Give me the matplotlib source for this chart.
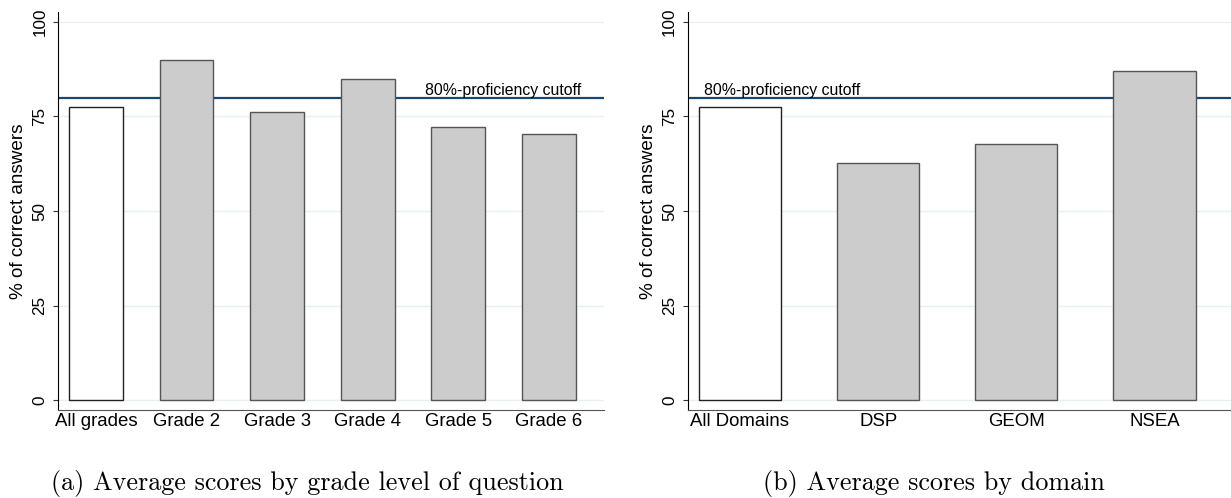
import numpy as np
import matplotlib.pyplot as plt

# Data
grade_labels = ["All grades", "Grade 2", "Grade 3", "Grade 4", "Grade 5", "Grade 6"]
grade_scores = [77.5, 89.9, 76.2, 84.9, 72.2, 70.4]

domain_labels = ["All Domains", "DSP", "GEOM", "NSEA"]
domain_scores = [77.5, 62.7, 67.8, 86.9]

cutoff = 80
yticks = [0, 25, 50, 75, 100]

captions = ["(a) Average scores by grade level of question",
            "(b) Average scores by domain"]

plt.rcParams['font.family'] = ['Liberation Sans', 'DejaVu Sans']

fig = plt.figure(figsize=(12.31, 4.98), dpi=100)
ax1 = fig.add_axes([0.0474, 0.1767, 0.4433, 0.7992])
ax2 = fig.add_axes([0.5589, 0.1767, 0.4433, 0.7992])

gridc = '#e8f0f2'
navy = '#1a476f'


def draw(ax, labels, scores, xlim, text_x, text_ha):
    x = np.arange(len(labels))
    colors = ['white'] + ['#cccccc'] * (len(labels) - 1)
    edges = ['#222222'] + ['#555555'] * (len(labels) - 1)
    ax.bar(x, scores, width=0.595, color=colors, edgecolor=edges,
           linewidth=1.0, zorder=3)
    ax.axhline(cutoff, color=navy, lw=1.6, zorder=2)
    ax.text(text_x, cutoff, "80%-proficiency cutoff", transform=ax.get_yaxis_transform(),
            ha=text_ha, va='bottom', fontsize=11.4, zorder=4)
    ax.set_xlim(*xlim)
    ax.set_ylim(-2.56, 102.6)
    ax.set_yticks(yticks)
    ax.set_xticks(x)
    ax.set_xticklabels(labels, fontsize=13.4)
    ax.tick_params(axis='x', length=0, pad=2)
    ax.tick_params(axis='y', length=3.6, width=0.8, color='#333333',
                   labelsize=12.3, pad=4.3, labelrotation=90)
    for lab in ax.get_yticklabels():
        lab.set_va('center')
        lab.set_ha('right')
    ax.yaxis.grid(True, color=gridc, lw=1.0, zorder=0)
    ax.set_axisbelow(True)
    for s in ['top', 'right']:
        ax.spines[s].set_visible(False)
    ax.spines['left'].set_color('black')
    ax.spines['bottom'].set_color('#555555')
    ax.set_ylabel("% of correct answers", fontsize=13.6)
    ax.yaxis.set_label_coords(-0.057, 0.5)


draw(ax1, grade_labels, grade_scores, (-0.414, 5.609), 0.958, 'right')
draw(ax2, domain_labels, domain_scores, (-0.376, 3.573), 0.029, 'left')

fig.text(0.250, 0.03, captions[0], ha='center', va='center',
         family='cmr10', fontsize=18.8)
fig.text(0.759, 0.03, captions[1], ha='center', va='center',
         family='cmr10', fontsize=18.8)

fig.savefig("out.png", dpi=100)
